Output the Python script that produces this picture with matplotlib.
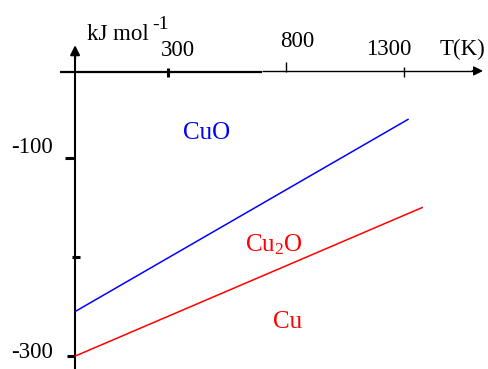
import matplotlib.pyplot as plt

plt.rcParams['font.family'] = ['Liberation Serif', 'DejaVu Serif']
plt.rcParams['mathtext.fontset'] = 'custom'
plt.rcParams['mathtext.rm'] = 'Liberation Serif'
plt.rcParams['mathtext.it'] = 'Liberation Serif:italic'

# Ellingham diagram for copper oxides (schematic)
# temperature axis ticks (K) and free energy ticks (kJ/mol)
t_ticks = [300, 800, 1300]
t_labels = ['300', '800', '1300']
g_ticks = [-100, -200, -300]
g_labels = ['-100', '', '-300']

# lines: temperature (K) and free energy (kJ/mol)
cuo_t = [-92, 1318]
cuo_g = [-255, -61]
cu2o_t = [-92, 1378]
cu2o_g = [-300, -150]

# region labels
region_names = ['CuO', 'Cu$_\\mathrm{2}$O', 'Cu']
region_t = [467, 751, 810]
region_g = [-75, -187, -266]
region_colors = ['blue', 'red', 'red']

t0 = -92     # temperature where the vertical axis sits
g0 = -13     # free energy where the horizontal axis sits

fig = plt.figure(figsize=(4.88, 3.69), dpi=100)
ax = fig.add_axes([0, 0, 1, 1])
ax.set_xlim(-410, 1657)
ax.set_ylim(-313, 59.6)
ax.axis('off')

fs = 16.5
fs_region = 18

# vertical axis with arrow
ax.plot([t0, t0], [-313, 5], color='black', lw=1.5, solid_capstyle='butt')
ax.annotate('', xy=(t0, 14), xytext=(t0, 0),
            arrowprops=dict(arrowstyle='-|>', color='black', lw=1.5,
                            mutation_scale=14, shrinkA=0, shrinkB=0))
# horizontal axis with arrow (thicker on the left part)
ax.plot([-156, 700], [g0, g0], color='black', lw=1.6, solid_capstyle='butt')
ax.plot([700, 1620], [g0 + 1, g0 + 1], color='black', lw=1.0, solid_capstyle='butt')
ax.annotate('', xy=(1636, g0 + 1), xytext=(1590, g0 + 1),
            arrowprops=dict(arrowstyle='-|>', color='black', lw=1.0,
                            mutation_scale=14, shrinkA=0, shrinkB=0))

# ticks on the temperature axis
tick_lw = [2.2, 1.0, 1.0]
tick_lo = [-5, 0, -5]
tick_hi = [4, 10, 5]
lab_dx = [-7, -6, 8]
lab_dy = [16, 25, 17]
lab_ha = ['left', 'left', 'right']
for t, lab, lw, lo, hi, dx, dy, ha in zip(t_ticks, t_labels, tick_lw, tick_lo,
                                          tick_hi, lab_dx, lab_dy, lab_ha):
    ax.plot([t, t], [g0 + lo, g0 + hi], color='black', lw=lw, solid_capstyle='butt')
    ax.annotate(lab, xy=(t, g0), xytext=(dx, dy), textcoords='offset pixels',
                ha=ha, va='baseline', fontsize=fs)

# ticks on the free energy axis
gtick_left = [42, 13, 34]
gtick_right = [0, 21, 0]
glab_dy = [5, 0, -2]
for g, lab, l, r, dy in zip(g_ticks, g_labels, gtick_left, gtick_right, glab_dy):
    ax.plot([t0 - l, t0 + r], [g, g], color='black', lw=2.2, solid_capstyle='butt')
    if lab:
        ax.annotate(lab, xy=(t0, g), xytext=(-22, dy), textcoords='offset pixels',
                    ha='right', va='baseline', fontsize=fs)

# axis titles
ax.annotate('kJ mol', xy=(t0, g0), xytext=(12, 32), textcoords='offset pixels',
            ha='left', va='baseline', fontsize=fs)
ax.annotate('-1', xy=(t0, g0), xytext=(77, 43), textcoords='offset pixels',
            ha='left', va='baseline', fontsize=fs * 0.85)
ax.annotate('T(K)', xy=(1636, g0), xytext=(-43, 17), textcoords='offset pixels',
            ha='left', va='baseline', fontsize=fs)

# oxide lines
ax.plot(cuo_t, cuo_g, color='blue', lw=1.1)
ax.plot(cu2o_t, cu2o_g, color='red', lw=1.1)

for name, t, g, c in zip(region_names, region_t, region_g, region_colors):
    ax.text(t, g, name, color=c, ha='center', va='center', fontsize=fs_region)

fig.savefig('out.png', dpi=100)
